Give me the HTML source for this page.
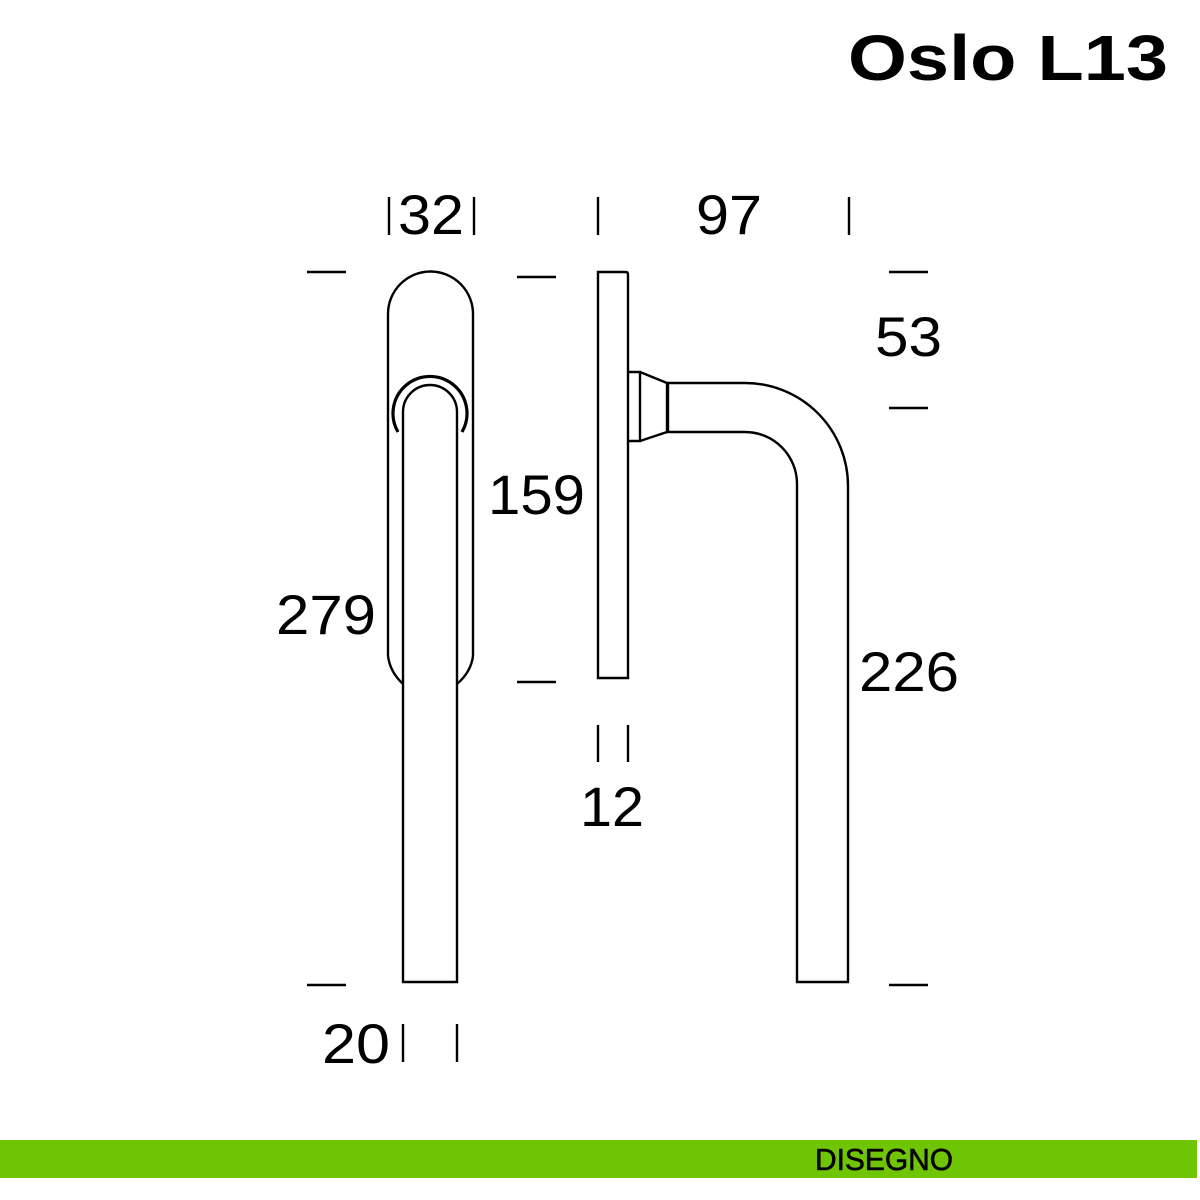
<!DOCTYPE html>
<html><head><meta charset="utf-8"><style>
body{margin:0;background:#fff;width:1200px;height:1200px;overflow:hidden}
svg{display:block}
</style></head><body>
<svg width="1200" height="1200" viewBox="0 0 1200 1200" xmlns="http://www.w3.org/2000/svg">
<g fill="none" stroke="#000" stroke-width="2.4">
<path d="M388 656 L388 314 A42.5 42.5 0 0 1 473 314 L473 656"/>
<path d="M388 656 Q390 672 403 684"/>
<path d="M473 656 Q471 672 457 684"/>
<path d="M403 982 L403 412 A27 27 0 0 1 457 412 L457 982 Z"/>
<path d="M398 432 A37 37 0 1 1 462 432" stroke-width="3.2"/>
<path d="M598 678 L598 272 L626 272 Q628 272 628 275 L628 678 Z"/>
<path d="M628 372 L640 372 L640 441 L628 441"/>
<path d="M640 372 L667 383 L667 432 L640 441"/>
<path d="M668 383 L668 432"/>
<path d="M667 383 L745 383 A103 103 0 0 1 848 486 L848 982 L797 982 L797 484 A52 52 0 0 0 745 432 L667 432"/>
<path d="M389 197V235M474 197V235M598 197V235M849 197V235"/>
<path d="M307 272H346M517 277H556M889 272H928M889 408H928M517 682H556M307 985H346M889 985H928"/>
<path d="M598 725V762M628 725V762M403 1024V1062M457 1024V1062"/>
</g>
<g font-family="Liberation Sans, sans-serif" font-size="56" fill="#000">
<text x="398" y="234" textLength="66" lengthAdjust="spacingAndGlyphs">32</text>
<text x="696" y="234" textLength="66" lengthAdjust="spacingAndGlyphs">97</text>
<text x="875" y="356" textLength="67" lengthAdjust="spacingAndGlyphs">53</text>
<text x="488" y="514" textLength="97" lengthAdjust="spacingAndGlyphs">159</text>
<text x="276" y="634" textLength="100" lengthAdjust="spacingAndGlyphs">279</text>
<text x="859" y="691" textLength="100" lengthAdjust="spacingAndGlyphs">226</text>
<text x="580" y="826" textLength="64" lengthAdjust="spacingAndGlyphs">12</text>
<text x="322" y="1063" textLength="68" lengthAdjust="spacingAndGlyphs">20</text>
</g>
<text x="848" y="80" font-family="Liberation Sans, sans-serif" font-weight="bold" font-size="64" textLength="320" lengthAdjust="spacingAndGlyphs">Oslo L13</text>
<rect x="0" y="1140" width="1197" height="38" fill="#6fc404"/>
<text x="815" y="1170" font-family="Liberation Sans, sans-serif" font-size="31" stroke="#000" stroke-width="0.6" textLength="138" lengthAdjust="spacingAndGlyphs">DISEGNO</text>
</svg>
</body></html>
